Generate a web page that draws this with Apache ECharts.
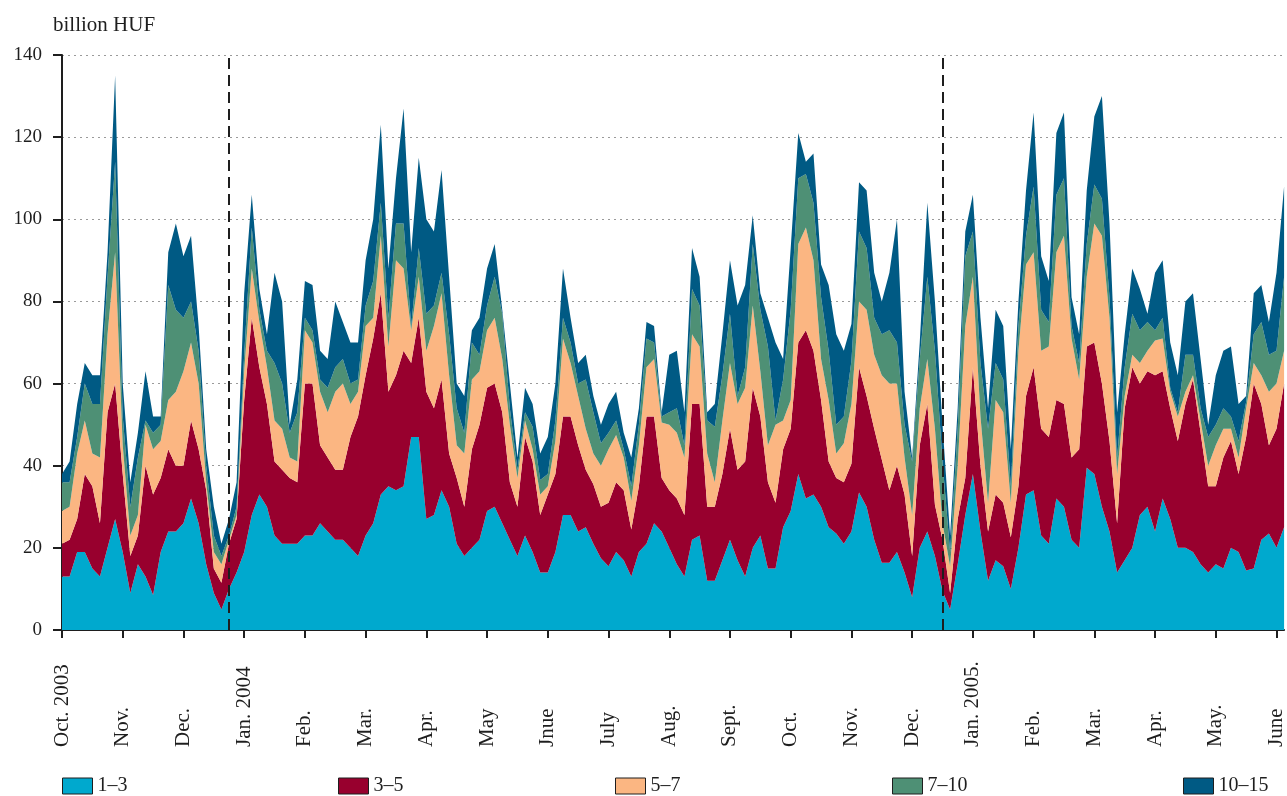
<!DOCTYPE html>
<html>
<head>
<meta charset="utf-8">
<title>Turnover by maturity bucket</title>
<script src="https://cdn.jsdelivr.net/npm/echarts@6/dist/echarts.min.js"></script>
<style>
    html, body { margin: 0; padding: 0; background: #fff; }
    #chart { width: 1287px; height: 796px; }
</style>
</head>
<body>
<div id="chart"></div>
<script>
    // month labels, one every ptsPerMonth sample points
    const monthLabels = ['Oct. 2003', 'Nov.', 'Dec.', 'Jan. 2004', 'Feb.', 'Mar.', 'Apr.', 'May', 'Jnue',
        'July', 'Aug.', 'Sept.', 'Oct.', 'Nov.', 'Dec.', 'Jan. 2005.', 'Feb.', 'Mar.', 'Apr.', 'May.', 'June'];
    const ptsPerMonth = 8;

    // upper edge of each stacked band (billion HUF)
    const top1_3 = [
        13, 13, 19, 19, 15, 13, 20, 27, 19, 9,
        16, 13, 8.5, 19, 24, 24, 26, 32, 26, 16,
        9, 5, 10, 14, 19, 28, 33, 30, 23, 21,
        21, 21, 23, 23, 26, 24, 22, 22, 20, 18,
        23, 26, 33, 35, 34, 35, 47, 47, 27, 28,
        34, 30, 21, 18, 20, 22, 29, 30, 26, 22,
        18, 23, 19, 14, 14, 19, 28, 28, 24, 25,
        21, 17.5, 15.5, 19, 17, 13, 19, 21, 26, 24,
        20, 16, 13, 22, 23, 12, 12, 17, 22, 17,
        13, 20, 23, 15, 15, 25, 29, 38, 32, 33,
        30, 25, 23.5, 21, 24, 33.5, 30, 22, 16.4, 16.4,
        19, 14, 8, 20, 24, 18, 9.5, 5, 16, 28,
        38, 24, 12, 17, 15.5, 10, 20, 33, 34, 23,
        21, 32, 30, 22, 20, 39.5, 38, 30, 24, 14,
        17, 20, 28, 30, 24, 32, 27, 20, 20, 19,
        16, 14, 16, 15, 20, 19, 14.5, 15, 22, 23.5,
        20, 25
    ];
    const top3_5 = [
        21, 22, 27, 38, 35, 26, 53, 60, 38, 18,
        23, 40, 33, 37, 44, 40, 40, 51, 44, 34,
        15, 11.5, 21, 27, 56, 76, 64, 55, 41, 39,
        37, 36, 60, 60, 45, 42, 39, 39, 47, 52,
        62, 71, 82, 58, 62, 68, 65, 76, 58, 54,
        61, 43, 37, 30, 44, 50, 59, 60, 53, 36,
        30, 47, 41, 28, 33, 38, 52, 52, 45, 39,
        35.5, 30, 31, 36, 34, 24.5, 35, 52, 52, 37,
        34, 32, 28, 55, 55, 30, 30, 38, 49, 39,
        41, 59, 52, 36, 31, 44, 49, 70, 73, 68,
        56, 41, 37, 36, 40.5, 64, 57, 49, 41.5, 34,
        40, 33, 18, 45, 55, 30.5, 22, 9, 27, 37,
        64, 40, 24, 33, 31, 22.6, 35, 57, 64, 49,
        47, 56, 55, 42, 44, 69, 70, 60, 46, 26,
        54, 64, 60, 63, 62, 63, 54, 46, 55, 61,
        48, 35, 35, 42, 46, 38, 47, 60, 55, 45,
        49, 60
    ];
    const top5_7 = [
        29, 30, 43, 51, 43, 42, 72, 92, 45, 23,
        28, 50, 44, 46, 56, 58, 63, 70, 60, 36,
        19, 16, 22, 28, 63, 88, 75, 64, 51, 49,
        42, 41, 73, 70, 58, 53, 58, 60, 55, 58,
        74, 76, 96, 69, 90, 88, 73, 86, 68, 74,
        82, 62, 45, 43, 61, 63, 73, 76, 66, 50,
        37, 51, 44, 33, 35, 46, 71, 65, 57, 49,
        43, 40, 44, 47.5, 42, 31.5, 45, 64, 66, 50.5,
        50, 48, 42, 72, 69, 43, 36, 51, 65, 55,
        59, 79, 63, 45, 50, 51, 56, 94, 98, 90,
        66, 56, 43, 45.5, 55, 80, 78, 67, 62, 60,
        60, 42, 28, 54, 66, 49, 26, 15.5, 40, 74,
        86, 52, 31, 56, 53, 31, 68, 89, 92, 68,
        69, 92, 96, 71, 61, 86, 99, 96, 76, 38,
        57, 67, 65, 68, 70.5, 71, 58, 52, 58, 62,
        51, 40, 45, 49, 49, 42, 54, 65, 62, 58,
        60, 68
    ];
    const top7_10 = [
        36, 36, 47, 60, 55, 55, 86, 114, 52, 30,
        42, 51, 48, 50, 84, 78, 76, 80, 68, 40,
        23, 18, 23, 30, 67, 98, 78, 68, 65, 60,
        48, 53, 76, 73, 61, 59, 64, 66, 60, 61,
        79, 85, 104, 76, 99, 99, 74, 93, 77, 79,
        87, 72, 54, 48, 70, 67, 79, 86, 77, 54,
        39, 53, 49.5, 36.5, 38, 51, 76, 70, 60, 61,
        53, 45.5, 48, 51, 44, 35, 50, 71, 70, 52,
        53, 54, 45, 83, 79, 51, 49.5, 62, 77, 57,
        64, 94, 78, 69, 51, 61, 78, 110, 111, 104,
        81, 68, 50, 52, 65.5, 97, 93, 76, 72, 73,
        70, 50, 41, 66, 86, 68, 41, 19, 49, 91,
        97, 65, 49, 65, 61, 35, 74, 96, 108, 78,
        75, 106, 110, 74, 65, 94, 108.5, 105, 81, 42,
        64, 77, 73, 75, 73, 76, 59, 53, 67, 67,
        54, 47, 50, 54, 52, 46, 55.5, 72, 75, 67,
        68, 86
    ];
    const top10_15 = [
        38, 41, 55, 65, 62, 62, 92, 135, 60, 36,
        48, 63, 52, 52, 92, 99, 91, 96, 74, 44,
        30, 21, 27, 36, 82, 106, 83, 72, 87, 80,
        50, 61, 85, 84, 68, 66, 80, 75, 70, 70,
        90, 100, 123, 88, 110, 127, 92, 115, 100, 97,
        112, 86, 60, 57, 73, 76, 88, 94, 78, 60,
        42, 59, 55, 43, 47, 60, 88, 76, 65, 67,
        57, 50, 55, 58, 48, 42, 54, 75, 74, 53,
        67, 68, 53, 93, 86, 53, 55, 72, 90, 79,
        84, 101, 82, 76, 70, 66, 93, 121, 114, 116,
        89, 84, 72, 68, 74.5, 109, 107, 87, 80, 87,
        100, 58, 42, 70, 104, 80, 50, 23, 54, 97,
        106, 76, 54, 78, 74, 44, 80, 107, 126, 91,
        85, 121, 126, 81, 72, 107, 125, 130, 99, 53,
        72, 88, 83, 77, 87, 90, 70, 62, 80, 82,
        66, 50, 62, 68, 69, 55, 57, 82, 84, 75,
        87, 108
    ];

    // category positions of the two year-end dashed lines
    const yearBreaks = [22, 116];

    const yTicks = { min: 0, max: 140, interval: 20 };

    const serif = 'Liberation Serif, Times New Roman, serif';
    const ink = '#1e1e1e';

    const bandOf = (hi, lo) => hi.map((v, i) => +(v - lo[i]).toFixed(1));
    const categories = top1_3.map((_, i) => String(i));
    const isMonthStart = (idx) => idx % ptsPerMonth === 0;

    const bands = [
        { name: '1–3', color: '#00A9CE', data: top1_3 },
        { name: '3–5', color: '#98002E', data: bandOf(top3_5, top1_3) },
        { name: '5–7', color: '#FBB682', data: bandOf(top5_7, top3_5) },
        { name: '7–10', color: '#4E9075', data: bandOf(top7_10, top5_7) },
        { name: '10–15', color: '#005A84', data: bandOf(top10_15, top7_10) }
    ];

    const legendLeft = [62, 338, 615, 892, 1183];

    const series = bands.map((b, k) => {
        const s = {
            name: b.name,
            type: 'line',
            stack: 'turnover',
            data: b.data,
            symbol: 'none',
            smooth: false,
            color: b.color,
            lineStyle: { width: 0 },
            areaStyle: { color: b.color, opacity: 1 },
            emphasis: { disabled: true }
        };
        if (k === bands.length - 1) {
            s.markLine = {
                silent: true,
                symbol: 'none',
                label: { show: false },
                lineStyle: { color: ink, width: 2, type: [11, 6] },
                data: yearBreaks.map(x => ({ xAxis: x }))
            };
        }
        return s;
    });

    const chart = echarts.init(document.getElementById('chart'));
    chart.setOption({
        animation: false,
        backgroundColor: '#fff',
        title: {
            text: 'billion HUF',
            left: 53,
            top: 15,
            padding: 0,
            textStyle: { fontFamily: serif, fontSize: 21, fontWeight: 'normal', color: ink }
        },
        legend: bands.map((b, k) => ({
            data: [b.name],
            left: legendLeft[k],
            top: 776,
            padding: 0,
            itemWidth: 30,
            itemHeight: 16,
            itemGap: 5,
            icon: 'rect',
            itemStyle: { borderColor: ink, borderWidth: 1 },
            textStyle: { fontFamily: serif, fontSize: 20, color: ink },
            selectedMode: false
        })),
        grid: { left: 62, right: 2, top: 55, bottom: 166, containLabel: false },
        xAxis: {
            type: 'category',
            data: categories,
            boundaryGap: false,
            axisLine: { lineStyle: { color: ink, width: 2 } },
            axisTick: { interval: isMonthStart, length: 8, lineStyle: { color: ink, width: 2 } },
            axisLabel: {
                interval: isMonthStart,
                formatter: (v, idx) => monthLabels[Math.round(idx / ptsPerMonth)],
                rotate: 90,
                align: 'left',
                margin: 117,
                fontFamily: serif,
                fontSize: 21,
                color: ink
            },
            splitLine: { show: false }
        },
        yAxis: {
            type: 'value',
            min: yTicks.min,
            max: yTicks.max,
            interval: yTicks.interval,
            axisLine: { show: true, lineStyle: { color: ink, width: 2 } },
            axisTick: { show: true, length: 9, lineStyle: { color: ink, width: 2 } },
            axisLabel: { fontFamily: serif, fontSize: 19, color: ink, margin: 20 },
            splitLine: { show: true, lineStyle: { color: '#9a9a9a', width: 1, type: [2, 4] } }
        },
        series: series
    });
</script>
</body>
</html>
